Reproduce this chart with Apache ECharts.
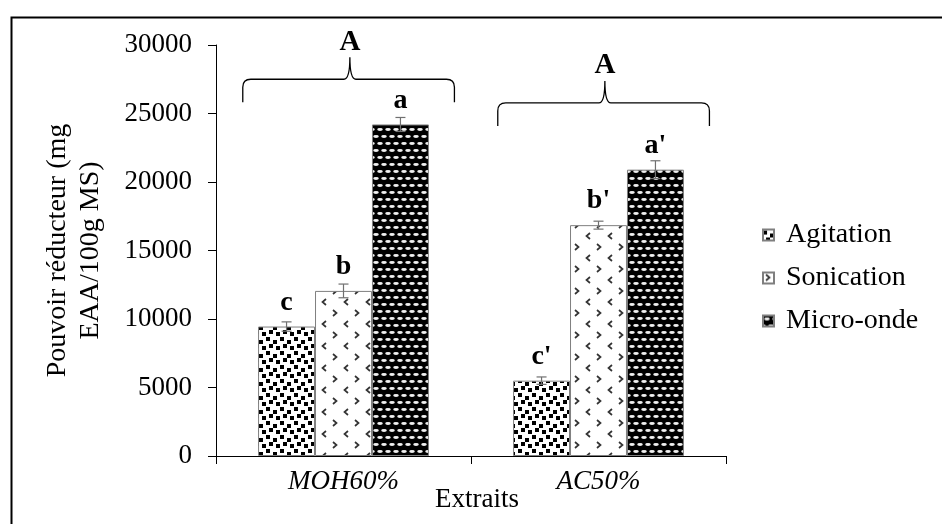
<!DOCTYPE html>
<html>
<head>
<meta charset="utf-8">
<script src="https://cdn.jsdelivr.net/npm/echarts@6/dist/echarts.min.js"></script>
<style>
  html, body { margin: 0; padding: 0; background: #fff; }
  #chart { width: 942px; height: 524px; }
</style>
</head>
<body>
<div id="chart"></div>
<script>
// Extracts and extraction methods
const categories = ['MOH60%', 'AC50%'];
const seriesNames = ['Agitation', 'Sonication', 'Micro-onde'];

// Reducing power (mg EAA/100g MS)
const agitation = [9450, 5500];
const sonication = [12050, 16850];
const microOnde = [24200, 20900];

// Standard deviations
const agitationErr = [340, 270];
const sonicationErr = [500, 290];
const microOndeErr = [510, 650];

// Significance letters
const agitationLetters = ['c', "c'"];
const sonicationLetters = ['b', "b'"];
const microOndeLetters = ['a', "a'"];
const groupLetters = ['A', 'A'];

// Value axis
const yMin = 0;
const yMax = 30000;
const yStep = 5000;

const SERIF = '"Liberation Serif", "Times New Roman", serif';

// ---- fill patterns ----
function tile(w, h, draw) {
  const c = document.createElement('canvas');
  c.width = w; c.height = h;
  draw(c.getContext('2d'));
  return { image: c, repeat: 'repeat' };
}
const agitationFill = tile(14, 14, g => {
  g.fillStyle = '#fff'; g.fillRect(0, 0, 14, 14);
  g.fillStyle = '#000';
  [[0, 1], [7, 4], [3, 8], [10, 10]].forEach(([x, y]) => g.fillRect(x, y, 4, 4));
});
const sonicationFill = tile(22, 22, g => {
  g.fillStyle = '#fff'; g.fillRect(0, 0, 22, 22);
  g.strokeStyle = '#333'; g.lineWidth = 1.7;
  g.beginPath(); g.moveTo(3, 2); g.lineTo(6.5, 5); g.lineTo(3, 8); g.stroke();
  g.beginPath(); g.moveTo(18, 13); g.lineTo(14.5, 16); g.lineTo(18, 19); g.stroke();
});
const microOndeFill = tile(8, 14, g => {
  g.fillStyle = '#000'; g.fillRect(0, 0, 8, 14);
  g.fillStyle = '#f0f0f0';
  const oval = (x, y) => { g.beginPath(); g.ellipse(x, y, 2.8, 1.4, 0, 0, Math.PI * 2); g.fill(); };
  oval(4, 3.5); oval(0, 10.5); oval(8, 10.5);
});

const values = [agitation, sonication, microOnde];
const errors = [agitationErr, sonicationErr, microOndeErr];
const letters = [agitationLetters, sonicationLetters, microOndeLetters];
const fills = [agitationFill, sonicationFill, microOndeFill];

const CATEGORY_GAP = 0.33;

const barSeries = seriesNames.map((name, s) => ({
  name: name,
  type: 'bar',
  barCategoryGap: '33%',
  barGap: '0%',
  data: values[s],
  itemStyle: { color: fills[s], borderColor: '#7f7f7f', borderWidth: 1 },
  label: {
    show: true,
    position: 'top',
    distance: 10,
    formatter: p => letters[s][p.dataIndex],
    fontFamily: SERIF,
    fontWeight: 'bold',
    fontSize: 28,
    color: '#000'
  },
  z: 2
}));

// error bars: [category, value, error, series index]
const errorData = [];
values.forEach((arr, s) => arr.forEach((v, i) => errorData.push([i, v, errors[s][i], s])));

const errorSeries = {
  type: 'custom',
  data: errorData,
  encode: { x: 0, y: 1 },
  z: 5,
  silent: true,
  renderItem: (params, api) => {
    const cat = api.value(0), v = api.value(1), e = api.value(2), s = api.value(3);
    const band = api.size([1, 0])[0];
    const bw = band * (1 - CATEGORY_GAP) / seriesNames.length;
    const x = api.coord([cat, v])[0] + (s - 1) * bw;
    const yt = api.coord([cat, v + e])[1];
    const yb = api.coord([cat, v - e])[1];
    const st = { stroke: '#707070', lineWidth: 1.2 };
    return {
      type: 'group',
      children: [
        { type: 'line', shape: { x1: x, y1: yt, x2: x, y2: yb }, style: st },
        { type: 'line', shape: { x1: x - 5, y1: yt, x2: x + 5, y2: yt }, style: st },
        { type: 'line', shape: { x1: x - 5, y1: yb, x2: x + 5, y2: yb }, style: st }
      ]
    };
  }
};

// grouping braces above each extract
const BRACE_LEVEL = [27500, 25770];
const braceSeries = {
  type: 'custom',
  data: categories.map((c, i) => [i, BRACE_LEVEL[i]]),
  encode: { x: 0, y: 1 },
  z: 5,
  silent: true,
  renderItem: (params, api) => {
    const cat = api.value(0), lvl = api.value(1);
    const band = api.size([1, 0])[0];
    const cx = api.coord([cat, 0])[0];
    const y = api.coord([cat, lvl])[1];
    const x0 = cx - 0.395 * band, x1 = cx + 0.435 * band, xm = cx + 0.025 * band;
    const drop = 23, rise = 22, r = 8;
    const d = `M${x0},${y + drop} L${x0},${y + r} Q${x0},${y} ${x0 + r},${y} ` +
      `L${xm - 6},${y} Q${xm},${y} ${xm},${y - rise} Q${xm},${y} ${xm + 6},${y} ` +
      `L${x1 - r},${y} Q${x1},${y} ${x1},${y + r} L${x1},${y + drop}`;
    return {
      type: 'group',
      children: [
        { type: 'path', shape: { pathData: d }, style: { fill: null, stroke: '#000', lineWidth: 1.3 } },
        {
          type: 'text', x: xm, y: y - rise - 15,
          style: {
            text: groupLetters[params.dataIndex], fill: '#000',
            font: `bold 29px ${SERIF}`, textAlign: 'center', textVerticalAlign: 'middle'
          }
        }
      ]
    };
  }
};

const chart = echarts.init(document.getElementById('chart'));
chart.setOption({
  backgroundColor: '#fff',
  animation: false,
  grid: { left: 216, right: 216, top: 45, bottom: 68, containLabel: false, outerBoundsMode: 'none' },
  legend: {
    orient: 'vertical',
    left: 762,
    top: 221,
    padding: 0,
    itemGap: 15,
    itemWidth: 11,
    itemHeight: 11,
    icon: 'rect',
    data: seriesNames,
    textStyle: { fontFamily: SERIF, fontSize: 28, color: '#000', padding: [0, 0, 0, 7] }
  },
  xAxis: {
    type: 'category',
    data: categories,
    name: 'Extraits',
    nameLocation: 'middle',
    nameGap: 30,
    nameMoveOverlap: false,
    nameTextStyle: { fontFamily: SERIF, fontSize: 27, color: '#000', padding: [0, 0, 0, 12] },
    axisLine: { lineStyle: { color: '#000', width: 1 } },
    axisTick: { show: true, length: 8, lineStyle: { color: '#000' } },
    axisLabel: { fontFamily: SERIF, fontStyle: 'italic', fontSize: 27, color: '#000', margin: 12 }
  },
  yAxis: {
    type: 'value',
    min: yMin,
    max: yMax,
    interval: yStep,
    name: 'Pouvoir réducteur (mg\nEAA/100g MS)',
    nameLocation: 'middle',
    nameGap: 109,
    nameRotate: 90,
    nameMoveOverlap: false,
    nameTextStyle: { fontFamily: SERIF, fontSize: 28, color: '#000', lineHeight: 33, align: 'center' },
    splitLine: { show: false },
    axisLine: { show: true, lineStyle: { color: '#000', width: 1 } },
    axisTick: { show: true, length: 8, lineStyle: { color: '#000' } },
    axisLabel: { fontFamily: SERIF, fontSize: 27, color: '#000', margin: 24, formatter: v => String(v) }
  },
  graphic: [{
    type: 'rect',
    left: 9, top: 15,
    shape: { width: 1200, height: 800 },
    style: { fill: null, stroke: '#000', lineWidth: 2 },
    silent: true, z: 10
  }],
  series: [...barSeries, errorSeries, braceSeries]
});
</script>
</body>
</html>
